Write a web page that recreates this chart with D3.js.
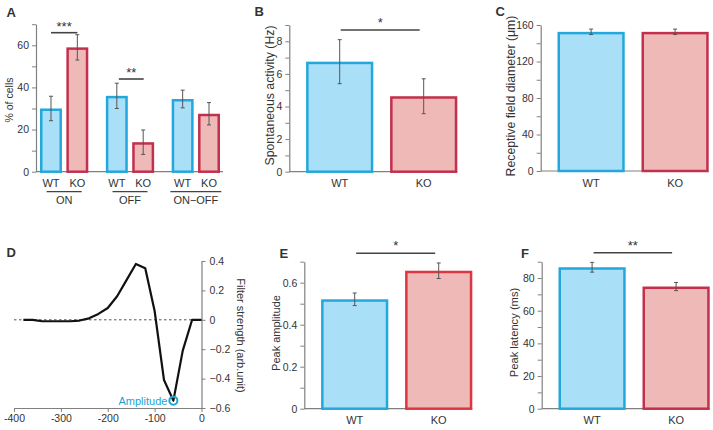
<!DOCTYPE html>
<html>
<head>
<meta charset="utf-8">
<script src="https://cdn.jsdelivr.net/npm/d3@7"></script>
<style>
  html, body { margin: 0; padding: 0; background: #fff; }
  svg { display: block; }
  text { font-family: 'Liberation Sans', Arial, Helvetica, sans-serif; fill: #333; }
</style>
</head>
<body>
<script>
// ---------------- DATA ----------------
const genotypes = ["WT", "KO"];

// Panel A: % of cells by response type
const groupsA = ["ON", "OFF", "ON\u2212OFF"];
const pctWT = [30, 36, 34.5];
const pctWTerr = [5.8, 6, 4.2];
const pctKO = [59, 14, 27.5];
const pctKOerr = [6, 5.8, 5.3];
const ticksA = [0, 20, 40, 60];

// Panel B: spontaneous activity (Hz)
const spontValues = [6.75, 4.63];
const spontErr = [1.35, 1.07];
const ticksB = [0, 2, 4, 6, 8];

// Panel C: receptive field diameter (um)
const rfValues = [152.5, 152.5];
const rfErr = [3, 3];
const ticksC = [0, 40, 80, 120, 160];

// Panel D: temporal filter
const filterTime = [-380, -360, -340, -320, -300, -280, -260, -240, -220, -200, -180, -160, -140, -120, -100, -80, -60, -40, -20, 0];
const filterStrength = [0, 0, -0.01, -0.01, -0.01, -0.01, -0.005, 0.01, 0.04, 0.08, 0.16, 0.27, 0.38, 0.35, 0.06, -0.41, -0.55, -0.21, 0, 0];
const amplitudePoint = { t: -60, v: -0.55 };
const ticksDx = [-400, -300, -200, -100, 0];
const ticksDy = [0.4, 0.2, 0, -0.2, -0.4, -0.6];

// Panel E: peak amplitude
const ampValues = [0.521, 0.657];
const ampErr = [0.03, 0.037];
const ticksE = [0, 0.2, 0.4, 0.6];

// Panel F: peak latency (ms)
const latValues = [86.6, 74.8];
const latErr = [3, 2.5];
const ticksF = [0, 20, 40, 60, 80];

// ---------------- STYLE ----------------
const WT_FILL = "#aadff8", WT_STROKE = "#22a8dc";
const KO_FILL = "#efb9b7", KO_STROKE = "#c2304d";
const AXIS = "#808080";
const ERR = "#555";
const SIG = "#444";

const svg = d3.select("body").append("svg").attr("width", 713).attr("height", 430);

function styleAxis(g) {
  g.selectAll("path.domain").attr("stroke", AXIS).attr("stroke-width", 1.2);
  g.selectAll(".tick line").attr("stroke", AXIS).attr("stroke-width", 1);
  g.selectAll(".tick text").attr("fill", "#333").style("font-size", "10.5px")
    .style("font-family", "'Liberation Sans', Arial, sans-serif");
}

function leftAxis(y, x0, minorTicks, labelTicks, fmt) {
  const g = svg.append("g").attr("transform", `translate(${x0},0)`);
  const isLabel = d => labelTicks.some(t => Math.abs(t - d) < 1e-9);
  g.call(d3.axisLeft(y).tickValues(minorTicks).tickSize(4).tickSizeOuter(0).tickPadding(3)
    .tickFormat(d => isLabel(d) ? fmt(d) : ""));
  styleAxis(g);
  return g;
}

function panelLetter(t, x, y) {
  svg.append("text").attr("x", x).attr("y", y).text(t)
    .style("font-size", "13px").style("font-weight", "bold").attr("fill", "#111");
}

function yTitle(t, x, y, rot, fs) {
  svg.append("text").attr("transform", `translate(${x},${y}) rotate(${rot || -90})`)
    .attr("text-anchor", "middle").attr("dominant-baseline", "central")
    .style("font-size", (fs || 11) + "px").text(t);
}

function sigBar(x1, x2, y, stars, starY) {
  svg.append("line").attr("x1", x1).attr("x2", x2).attr("y1", y).attr("y2", y)
    .attr("stroke", SIG).attr("stroke-width", 1.6);
  svg.append("text").attr("x", (x1 + x2) / 2).attr("y", starY).attr("text-anchor", "middle")
    .style("font-size", "13px").attr("fill", "#333").text(stars);
}

function errorBar(cx, y, v, e) {
  const g = svg.append("g").attr("stroke", ERR).attr("stroke-width", 1);
  g.append("line").attr("x1", cx).attr("x2", cx).attr("y1", y(v + e)).attr("y2", y(v - e));
  g.append("line").attr("x1", cx - 2).attr("x2", cx + 2).attr("y1", y(v + e)).attr("y2", y(v + e));
  g.append("line").attr("x1", cx - 2).attr("x2", cx + 2).attr("y1", y(v - e)).attr("y2", y(v - e));
}

function drawBar(x, w, y, v, fill, stroke) {
  const sw = 2.5;
  svg.append("rect")
    .attr("x", x + sw / 2).attr("width", w - sw)
    .attr("y", y(v) + sw / 2).attr("height", y(0) - y(v) - sw / 2)
    .attr("fill", fill).attr("stroke", stroke).attr("stroke-width", sw);
}

// Two-bar panel (B, C, E, F)
function twoBarPanel(o) {
  const y = d3.scaleLinear().domain([0, o.ymax]).range([o.y0, o.yTop]);
  const step = 84;
  const x = d3.scaleBand().domain(genotypes).range([o.x0, o.x0 + step * 2.2]).padding(0.2);
  svg.append("line").attr("x1", o.x0).attr("x2", x("KO") + x.bandwidth())
    .attr("y1", o.y0).attr("y2", o.y0).attr("stroke", AXIS).attr("stroke-width", 1.2);
  genotypes.forEach((gname, i) => {
    drawBar(x(gname), x.bandwidth(), y, o.values[i],
      i === 0 ? WT_FILL : KO_FILL, i === 0 ? WT_STROKE : (o.koStroke || KO_STROKE));
    errorBar(x(gname) + x.bandwidth() / 2, y, o.values[i], o.errs[i]);
    svg.append("text").attr("x", x(gname) + x.bandwidth() / 2).attr("y", o.y0 + 15.5)
      .attr("text-anchor", "middle").style("font-size", "11px").text(gname);
  });
  leftAxis(y, o.x0, o.minor, o.labels, o.fmt);
  yTitle(o.title, o.titleX, o.titleY, -90, o.titleSize);
  panelLetter(o.letter, o.letterX, o.letterY);
  if (o.sig) {
    const cW = x("WT") + x.bandwidth() / 2, cK = x("KO") + x.bandwidth() / 2;
    sigBar(cW + o.sig.dl, cK + o.sig.dr, o.sig.y, o.sig.stars, o.sig.starY);
  }
}

// ---------------- PANEL A ----------------
(function () {
  const x0 = 36, y0 = 171.7;
  const y = d3.scaleLinear().domain([0, 70]).range([y0, 24.2]);
  const xg = d3.scaleBand().domain(groupsA).range([x0, 224]).paddingInner(0.2665).paddingOuter(0.061);
  const xi = d3.scaleBand().domain(genotypes).range([0, xg.bandwidth()]).paddingInner(0.167).paddingOuter(0);
  svg.append("line").attr("x1", x0).attr("x2", 223).attr("y1", y0).attr("y2", y0)
    .attr("stroke", AXIS).attr("stroke-width", 1.2);
  groupsA.forEach((grp, gi) => {
    const vals = [pctWT[gi], pctKO[gi]], errs = [pctWTerr[gi], pctKOerr[gi]];
    genotypes.forEach((gn, i) => {
      const bx = xg(grp) + xi(gn);
      drawBar(bx, xi.bandwidth(), y, vals[i], i === 0 ? WT_FILL : KO_FILL, i === 0 ? WT_STROKE : KO_STROKE);
      errorBar(bx + xi.bandwidth() / 2, y, vals[i], errs[i]);
      svg.append("text").attr("x", bx + xi.bandwidth() / 2).attr("y", 187)
        .attr("text-anchor", "middle").style("font-size", "11px").text(gn);
    });
    const cx = xg(grp) + xg.bandwidth() / 2;
    const t = svg.append("text").attr("x", cx).attr("y", 203.5).attr("text-anchor", "middle")
      .style("font-size", "11px").text(grp);
    const tw = t.node().getComputedTextLength();
    const lw = Math.max(35, tw + 6);
    svg.append("line").attr("x1", cx - lw / 2).attr("x2", cx + lw / 2).attr("y1", 191.7).attr("y2", 191.7)
      .attr("stroke", SIG).attr("stroke-width", 1.3);
  });
  leftAxis(y, x0, d3.range(0, 71, 10), ticksA, d => String(d));
  yTitle("% of cells", 9, 100, -90, 10.5);
  panelLetter("A", 6.5, 16.7);
  const c = (grp, gn) => xg(grp) + xi(gn) + xi.bandwidth() / 2;
  sigBar(c(groupsA[0], "WT"), c(groupsA[0], "KO"), 32.7, "***", 31);
  sigBar(c(groupsA[1], "WT") + 2, c(groupsA[1], "KO") + 0.5, 79, "**", 77);
})();

// ---------------- PANEL B ----------------
twoBarPanel({
  x0: 289.3, y0: 171.7, yTop: 25, ymax: 9,
  minor: d3.range(0, 10, 1), labels: ticksB, fmt: d => String(d),
  values: spontValues, errs: spontErr,
  title: "Spontaneous activity (Hz)", titleX: 269.5, titleY: 95.5, titleSize: 12.3,
  letter: "B", letterX: 254.5, letterY: 16,
  sig: { dl: 1, dr: -4, y: 30, stars: "*", starY: 26.5 }
});

// ---------------- PANEL C ----------------
twoBarPanel({
  x0: 540.7, y0: 171, yTop: 25, ymax: 160,
  minor: d3.range(0, 161, 20), labels: ticksC, fmt: d => String(d),
  values: rfValues, errs: rfErr,
  title: "Receptive field diameter (\u03bcm)", titleX: 511, titleY: 96, titleSize: 12.3,
  letter: "C", letterX: 495.5, letterY: 16
});

// ---------------- PANEL E ----------------
twoBarPanel({
  x0: 304.3, y0: 408.7, yTop: 261.7, ymax: 0.7,
  minor: d3.range(0, 8).map(i => i / 10), labels: ticksE, fmt: d => d === 0 ? "0" : d3.format(".1f")(d),
  values: ampValues, errs: ampErr, koStroke: "#de3640",
  title: "Peak amplitude", titleX: 276, titleY: 333, titleSize: 11,
  letter: "E", letterX: 279.5, letterY: 257.5,
  sig: { dl: 1.5, dr: -3.5, y: 253.3, stars: "*", starY: 250 }
});

// ---------------- PANEL F ----------------
twoBarPanel({
  x0: 541.7, y0: 408.7, yTop: 261.7, ymax: 90,
  minor: d3.range(0, 91, 10), labels: ticksF, fmt: d => String(d),
  values: latValues, errs: latErr,
  title: "Peak latency (ms)", titleX: 513.5, titleY: 332.5, titleSize: 11.2,
  letter: "F", letterX: 521, letterY: 258.3,
  sig: { dl: 1.5, dr: -4, y: 252.7, stars: "**", starY: 250 }
});

// ---------------- PANEL D ----------------
(function () {
  const xD = d3.scaleLinear().domain([-400, 0]).range([14, 201.5]);
  const yD = d3.scaleLinear().domain([-0.6, 0.4]).range([408, 261]);
  svg.append("line").attr("x1", xD(-400)).attr("x2", xD(0)).attr("y1", yD(0)).attr("y2", yD(0))
    .attr("stroke", "#555").attr("stroke-width", 1).attr("stroke-dasharray", "2.5,2.5");
  const gx = svg.append("g").attr("transform", `translate(0,${yD(-0.6)})`)
    .call(d3.axisBottom(xD).tickValues(ticksDx).tickSize(4).tickSizeOuter(0).tickPadding(3)
      .tickFormat(d => String(d)));
  styleAxis(gx);
  const gy = svg.append("g").attr("transform", `translate(${xD(0)},0)`)
    .call(d3.axisRight(yD).tickValues(ticksDy).tickSize(4).tickSizeOuter(0).tickPadding(4)
      .tickFormat(d => Math.abs(d) < 1e-9 ? "0" : d3.format(".1f")(d)));
  styleAxis(gy);
  const line = d3.line().x((d, i) => xD(filterTime[i])).y(d => yD(d));
  svg.append("path").datum(filterStrength).attr("d", line)
    .attr("fill", "none").attr("stroke", "#111").attr("stroke-width", 2.2).attr("stroke-linejoin", "round");
  svg.append("circle").attr("cx", xD(amplitudePoint.t)).attr("cy", yD(amplitudePoint.v)).attr("r", 4)
    .attr("fill", "none").attr("stroke", "#1ea3d6").attr("stroke-width", 2);
  svg.append("text").attr("x", xD(amplitudePoint.t) - 6).attr("y", yD(amplitudePoint.v))
    .attr("text-anchor", "end").attr("dominant-baseline", "central")
    .style("font-size", "11px").style("fill", "#1ea3d6").text("Amplitude");
  yTitle("Filter strength (arb.unit)", 240.5, 335.5, 90, 11);
  panelLetter("D", 6.5, 257.3);
})();
</script>
</body>
</html>
